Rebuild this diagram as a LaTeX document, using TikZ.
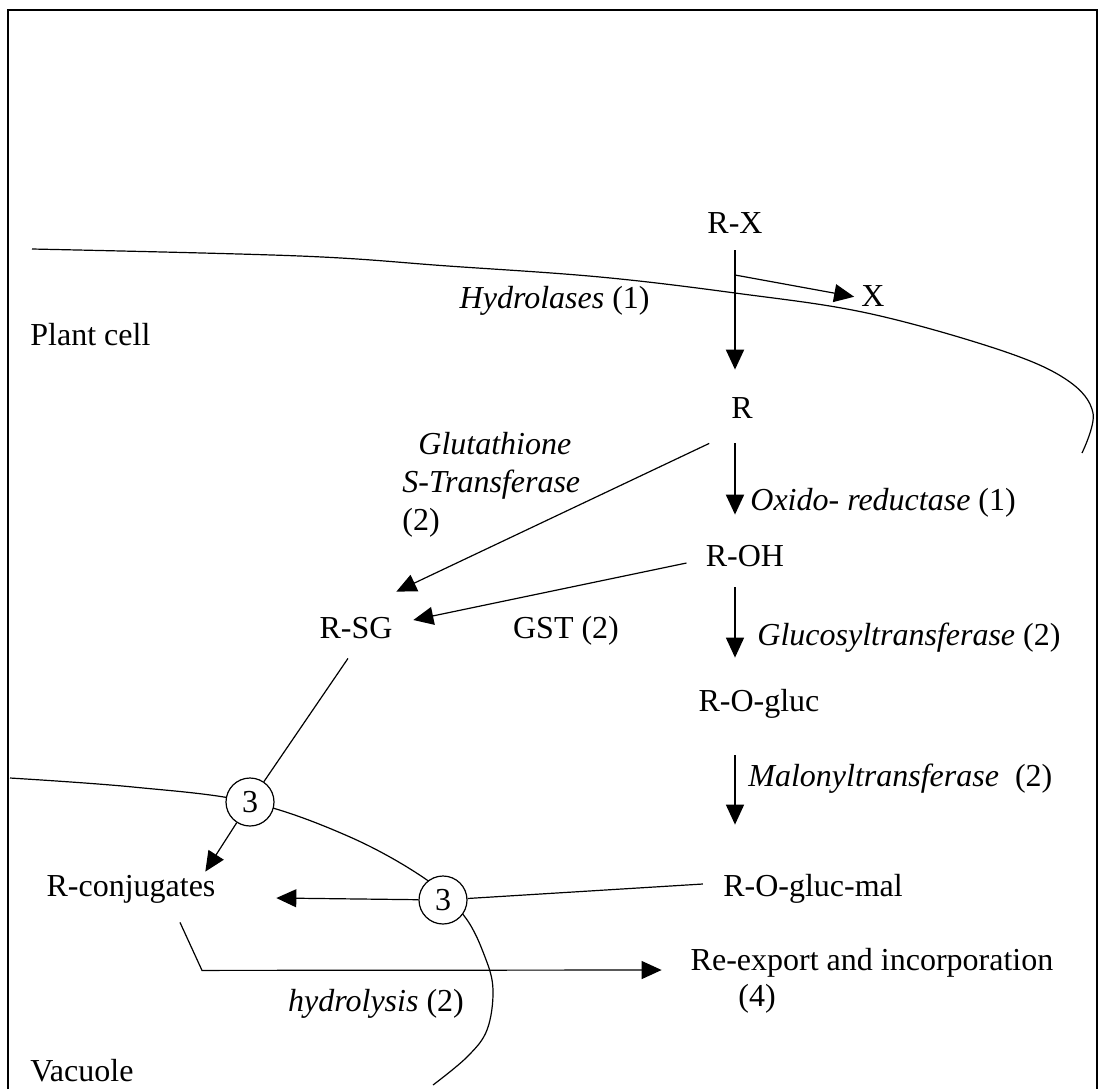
\documentclass[tikz,border=0pt]{standalone}
\usepackage{fontspec}
\setmainfont{Liberation Serif}
\usetikzlibrary{arrows.meta}

\tikzset{
  lbl/.style={inner sep=0pt, text height=11.5pt, text depth=3.5pt},
  flow/.style={-{Triangle[length=10pt,width=9pt]}, line width=0.6pt},
  bigflow/.style={flow, line width=1pt},
  pump/.style={circle, draw, fill=white, line width=0.6pt, minimum size=24pt, inner sep=0pt},
  membrane/.style={line width=0.6pt}
}

\begin{document}
\begin{tikzpicture}[x=0.5pt, y=-0.5pt, font=\fontsize{16}{19}\selectfont]

        \useasboundingbox (0,0) rectangle (1099,1089);
        \draw[line width=1pt] (8,1089) -- (8,10) -- (1097,10) -- (1097,1089);

        % cell and vacuole membranes
        \draw[membrane] plot[smooth, tension=0.6] coordinates {(32,249) (300,256) (448,266) (600,277) (735,293) (867,313) (1000,350) (1067,380) (1093,413) (1082,453)};
        \draw[membrane] plot[smooth, tension=0.6] coordinates {(10,778) (133,787) (250,802) (350,837) (427,880) (465,917) (485,957) (493,990) (487,1030) (467,1057) (433,1085)};

        \node[lbl] (RX) at (735,225) {R-X};
        \node[lbl] (X) at (873,298) {X};
        \node[lbl] (R) at (742,410) {R};
        \node[lbl] (ROH) at (745,558) {R-OH};
        \node[lbl] (ROgluc) at (759,703) {R-O-gluc};
        \node[lbl] (ROglucmal) at (813,888) {R-O-gluc-mal};
        \node[lbl] (RSG) at (356,630) {R-SG};
        \node[lbl] (Rconj) at (131,888) {R-conjugates};
        \node[lbl] (reexp) at (872,962) {Re-export and incorporation};
        \node[lbl] (reexpnum) at (757,998) {(4)};
        \node[pump] (c1) at (250,802) {3};
        \node[pump] (c2) at (443,900) {3};

        \node[lbl, anchor=east] (hydro) at (650,300) {\textit{Hydrolases} (1)};
        \node[lbl, anchor=west] (oxido) at (750,502) {\textit{Oxido- reductase} (1)};
        \node[lbl, anchor=west] (gluco) at (757,637) {\textit{Glucosyltransferase} (2)};
        \node[lbl, anchor=west] (malonyl) at (748,778) {\textit{Malonyltransferase}\ \ (2)};
        \node[lbl] (gst) at (566,630) {GST (2)};
        \node[inner sep=0pt, align=left, anchor=west] (gstlong) at (402,485) {\hspace{8pt}\textit{Glutathione}\\\textit{S-Transferase}\\(2)};
        \node[lbl] (hydrolysis) at (376,1003) {\textit{hydrolysis} (2)};
        \node[lbl, anchor=west] (plant) at (30,337) {Plant cell};
        \node[lbl, anchor=west] (vacuole) at (30,1073) {Vacuole};

        \coordinate (split) at (735,275);

        \draw[bigflow, shorten <=5pt, shorten >=12.5pt] (RX.south) -- (RX.south |- R.north);
        \draw[flow, shorten >=3.5pt] (split) -- (X.west);
        \draw[bigflow, shorten <=9pt, shorten >=14pt] (R.south -| RX.south) -- (ROH.north -| RX.south);
        \draw[flow, line width=0.8pt, shorten <=7pt, shorten >=15pt] (ROH.south -| RX.south) -- (ROgluc.north -| RX.south);
        \draw[flow, line width=0.8pt, shorten <=18.5pt, shorten >=24pt] (ROgluc.south -| RX.south) -- (ROglucmal.north -| RX.south);

        \draw[flow] ([shift={(-21.7,18)}]R.south west) -- ([shift={(3.5,-23)}]RSG.north east);
        \draw[flow] ([shift={(-19,5)}]ROH.west) -- ([shift={(20.5,-10)}]RSG.east);
        \draw[membrane] ([shift={(-8,13)}]RSG.south) -- (c1);
        \draw[flow] (c1) -- ([shift={(-10.5,-1)}]Rconj.north east);
        \draw[membrane] ([shift={(-20,-4)}]ROglucmal.west) -- (c2);
        \draw[flow] (c2) -- ([shift={(60.5,10)}]Rconj.east);
        \draw[flow] ([shift={(49,19)}]Rconj.south) -- ++(22,48) -- ([shift={(-28.7,8)}]reexp.west);

\end{tikzpicture}
\end{document}
